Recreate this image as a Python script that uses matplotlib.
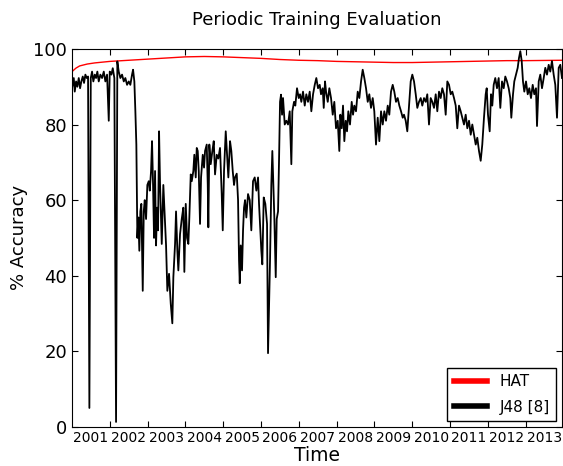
import matplotlib
matplotlib.use("Agg")
import matplotlib.pyplot as plt
from matplotlib.ticker import FixedLocator, NullFormatter, FixedFormatter

# HAT accuracy (smooth, near the top)
hat_time = [2001.0, 2001.1, 2001.2, 2001.4, 2001.6, 2002.0, 2002.5, 2003.0, 2003.5,
            2004.0, 2004.5, 2005.0, 2005.5, 2006.0, 2006.5, 2007.0, 2007.5, 2008.0,
            2008.5, 2009.0, 2009.5, 2010.0, 2010.5, 2011.0, 2011.5, 2012.0, 2012.5,
            2013.0, 2013.96]
hat_acc = [94.0, 94.9, 95.5, 96.0, 96.3, 96.7, 97.0, 97.3, 97.6,
           97.9, 98.0, 97.9, 97.7, 97.5, 97.2, 97.0, 96.9, 96.7,
           96.6, 96.5, 96.4, 96.4, 96.5, 96.6, 96.7, 96.8, 96.9,
           96.9, 97.0]

# J48 [8] accuracy
j48_time = [
    2001.000, 2001.045, 2001.071, 2001.106, 2001.140, 2001.177, 2001.212, 2001.246,
    2001.283, 2001.317, 2001.352, 2001.389, 2001.423, 2001.458, 2001.495, 2001.529,
    2001.563, 2001.601, 2001.635, 2001.669, 2001.706, 2001.749, 2001.794, 2001.839,
    2001.881, 2001.926, 2001.971, 2001.997, 2002.040, 2002.077, 2002.119, 2002.164,
    2002.198, 2002.235, 2002.278, 2002.323, 2002.368, 2002.410, 2002.455, 2002.500,
    2002.542, 2002.587, 2002.614, 2002.648, 2002.675, 2002.701, 2002.728, 2002.754,
    2002.780, 2002.807, 2002.833, 2002.870, 2002.897, 2002.923, 2002.958, 2002.992,
    2003.029, 2003.056, 2003.090, 2003.116, 2003.143, 2003.169, 2003.196, 2003.222,
    2003.249, 2003.275, 2003.302, 2003.328, 2003.373, 2003.415, 2003.442, 2003.487,
    2003.521, 2003.566, 2003.611, 2003.653, 2003.680, 2003.725, 2003.751, 2003.786,
    2003.812, 2003.857, 2003.902, 2003.944, 2003.971, 2004.008, 2004.042, 2004.077,
    2004.103, 2004.140, 2004.167, 2004.209, 2004.235, 2004.272, 2004.299, 2004.325,
    2004.352, 2004.386, 2004.413, 2004.458, 2004.492, 2004.519, 2004.563, 2004.590,
    2004.606, 2004.632, 2004.669, 2004.712, 2004.749, 2004.783, 2004.828, 2004.870,
    2004.915, 2004.960, 2004.987, 2005.021, 2005.066, 2005.101, 2005.135, 2005.180,
    2005.214, 2005.251, 2005.286, 2005.312, 2005.357, 2005.392, 2005.418, 2005.437,
    2005.463, 2005.497, 2005.524, 2005.550, 2005.577, 2005.611, 2005.656, 2005.701,
    2005.743, 2005.788, 2005.833, 2005.876, 2005.921, 2005.947, 2005.981, 2006.008,
    2006.034, 2006.071, 2006.114, 2006.159, 2006.185, 2006.212, 2006.238, 2006.272,
    2006.299, 2006.325, 2006.352, 2006.389, 2006.415, 2006.450, 2006.476, 2006.503,
    2006.529, 2006.556, 2006.582, 2006.627, 2006.669, 2006.714, 2006.759, 2006.802,
    2006.828, 2006.873, 2006.907, 2006.952, 2006.997, 2007.032, 2007.066, 2007.111,
    2007.156, 2007.198, 2007.243, 2007.288, 2007.331, 2007.376, 2007.421, 2007.463,
    2007.508, 2007.553, 2007.587, 2007.632, 2007.659, 2007.693, 2007.720, 2007.765,
    2007.807, 2007.852, 2007.897, 2007.939, 2007.984, 2008.029, 2008.071, 2008.098,
    2008.135, 2008.169, 2008.204, 2008.241, 2008.275, 2008.310, 2008.354, 2008.399,
    2008.434, 2008.468, 2008.513, 2008.558, 2008.601, 2008.646, 2008.690, 2008.733,
    2008.778, 2008.823, 2008.865, 2008.910, 2008.955, 2008.997, 2009.042, 2009.087,
    2009.130, 2009.175, 2009.220, 2009.262, 2009.307, 2009.352, 2009.394, 2009.439,
    2009.484, 2009.526, 2009.571, 2009.616, 2009.659, 2009.704, 2009.749, 2009.783,
    2009.828, 2009.870, 2009.915, 2009.960, 2010.003, 2010.048, 2010.093, 2010.135,
    2010.180, 2010.225, 2010.267, 2010.312, 2010.357, 2010.399, 2010.444, 2010.489,
    2010.532, 2010.577, 2010.622, 2010.664, 2010.709, 2010.754, 2010.796, 2010.841,
    2010.886, 2010.929, 2010.974, 2011.019, 2011.061, 2011.106, 2011.151, 2011.193,
    2011.238, 2011.283, 2011.325, 2011.370, 2011.415, 2011.458, 2011.503, 2011.548,
    2011.590, 2011.635, 2011.680, 2011.722, 2011.767, 2011.812, 2011.854, 2011.899,
    2011.944, 2011.971, 2012.005, 2012.050, 2012.085, 2012.119, 2012.156, 2012.198,
    2012.243, 2012.288, 2012.331, 2012.376, 2012.421, 2012.463, 2012.508, 2012.553,
    2012.595, 2012.622, 2012.667, 2012.701, 2012.746, 2012.791, 2012.825, 2012.860,
    2012.897, 2012.931, 2012.966, 2013.011, 2013.056, 2013.098, 2013.143, 2013.188,
    2013.230, 2013.275, 2013.302, 2013.347, 2013.389, 2013.434, 2013.479, 2013.521,
    2013.566, 2013.611, 2013.653, 2013.698, 2013.743, 2013.786, 2013.831, 2013.876,
    2013.918, 2013.963,
]
j48_acc = [
    89.7, 92.3, 88.7, 91.4, 90.0, 92.3, 89.6, 91.4,
    92.7, 91.0, 93.2, 92.3, 92.7, 5.0, 92.3, 94.0,
    91.4, 93.2, 92.3, 94.0, 91.4, 93.2, 92.3, 94.0,
    91.4, 93.2, 81.0, 94.0, 93.2, 94.9, 92.3, 1.3,
    96.7, 94.0, 92.3, 93.2, 91.4, 92.3, 90.5, 91.4,
    90.5, 93.2, 94.5, 91.4, 83.5, 74.7, 50.0, 55.4,
    46.6, 57.0, 59.0, 36.0, 57.0, 60.0, 55.0, 64.0,
    65.0, 62.5, 67.7, 75.6, 64.0, 50.0, 67.7, 48.0,
    58.0, 52.0, 78.2, 64.2, 48.4, 64.0, 58.0, 48.0,
    36.0, 40.5, 32.6, 27.4, 39.6, 48.4, 57.0, 46.6,
    41.4, 51.0, 55.0, 58.0, 41.0, 59.0, 50.0, 48.4,
    55.4, 66.8, 65.0, 67.7, 72.0, 66.0, 73.8, 73.0,
    67.7, 53.7, 66.0, 72.0, 68.6, 73.0, 74.7, 64.2,
    52.8, 74.7, 69.5, 73.0, 75.6, 66.8, 72.0, 71.0,
    73.8, 61.6, 52.0, 67.7, 78.2, 72.0, 66.0, 75.6,
    73.0, 67.7, 64.0, 66.0, 67.0, 60.0, 44.0, 38.0,
    48.0, 41.4, 52.0, 58.0, 60.0, 55.4, 61.6, 60.0,
    52.0, 65.0, 66.0, 62.5, 66.0, 59.0, 52.0, 46.6,
    43.0, 60.7, 59.0, 53.7, 19.5, 32.6, 44.0, 64.0,
    73.0, 64.0, 55.4, 39.6, 55.0, 57.0, 70.4, 86.0,
    87.9, 82.6, 87.0, 80.0, 81.0, 80.0, 83.5, 69.5,
    83.5, 86.0, 85.0, 89.6, 87.0, 88.0, 86.0, 88.7,
    85.0, 88.0, 86.0, 88.7, 83.5, 88.0, 90.5, 92.3,
    89.6, 90.5, 88.0, 89.6, 84.4, 91.4, 88.7, 86.0,
    89.6, 87.0, 82.6, 86.0, 79.0, 81.0, 73.0, 82.6,
    79.0, 85.0, 75.6, 81.0, 78.2, 83.5, 80.0, 86.0,
    82.6, 85.0, 83.5, 88.7, 87.0, 91.4, 94.5, 92.3,
    89.6, 86.0, 88.0, 84.4, 87.0, 83.5, 74.7, 81.8,
    75.6, 83.5, 80.0, 83.5, 81.0, 85.0, 82.6, 88.7,
    90.5, 88.7, 86.0, 87.0, 85.0, 83.5, 81.8, 82.6,
    81.0, 78.2, 85.0, 91.4, 93.2, 91.4, 88.0, 84.4,
    86.0, 87.0, 85.0, 87.0, 86.0, 88.0, 80.0, 87.0,
    86.0, 84.4, 88.0, 83.5, 88.7, 87.0, 89.6, 88.0,
    82.6, 91.4, 90.5, 88.0, 88.7, 87.0, 85.0, 79.0,
    85.0, 83.5, 81.8, 80.0, 82.6, 79.0, 81.0, 77.3,
    80.0, 77.3, 74.7, 76.5, 73.0, 70.4, 74.7, 81.8,
    88.0, 89.6, 82.6, 78.2, 88.0, 85.0, 90.5, 92.3,
    89.6, 92.3, 84.4, 91.4, 89.6, 92.7, 91.4, 89.6,
    87.0, 81.8, 88.0, 91.4, 93.2, 95.0, 97.6, 99.4,
    96.8, 91.4, 88.7, 91.4, 88.0, 89.6, 87.0, 90.5,
    88.0, 89.6, 79.6, 91.4, 93.2, 89.6, 92.3, 95.0,
    93.2, 95.8, 94.0, 96.8, 93.2, 90.5, 81.8, 95.0,
    95.8, 92.3,
]

years = list(range(2001, 2014))
year_starts = years[1:]
year_mids = [y + 0.5 for y in years]
year_labels = [str(y) for y in years]

fig = plt.figure(figsize=(5.63, 4.66), dpi=100)
ax = fig.add_axes([0.128, 0.084, 0.870, 0.811])

ax.plot(hat_time, hat_acc, color="red", lw=1.0, label="HAT")
ax.plot(j48_time, j48_acc, color="black", lw=1.3, label="J48 [8]")

ax.set_xlim(2001.0, 2013.96)
ax.set_ylim(0, 100)
ax.set_yticks([0, 20, 40, 60, 80, 100])

# ticks at year boundaries, labels centred on each year
ax.xaxis.set_major_locator(FixedLocator(year_starts))
ax.xaxis.set_major_formatter(NullFormatter())
ax.xaxis.set_minor_locator(FixedLocator(year_mids))
ax.xaxis.set_minor_formatter(FixedFormatter(year_labels))
ax.tick_params(axis="x", which="minor", length=0, labelsize=10, pad=3)
ax.tick_params(axis="both", which="major", direction="in", length=4,
               top=True, right=True)
ax.tick_params(axis="y", labelsize=13)

ax.set_title("Periodic Training Evaluation", fontsize=13, pad=17)
ax.set_xlabel("Time", fontsize=13.5, labelpad=1)
ax.set_ylabel("% Accuracy", fontsize=13, labelpad=4)

leg = ax.legend(loc="lower right", fontsize=11, fancybox=False, framealpha=1,
                edgecolor="black", handlelength=2.2, labelspacing=0.7,
                borderaxespad=0.4)
for line in leg.get_lines():
    line.set_linewidth(4)

fig.savefig("out.png", dpi=100)
